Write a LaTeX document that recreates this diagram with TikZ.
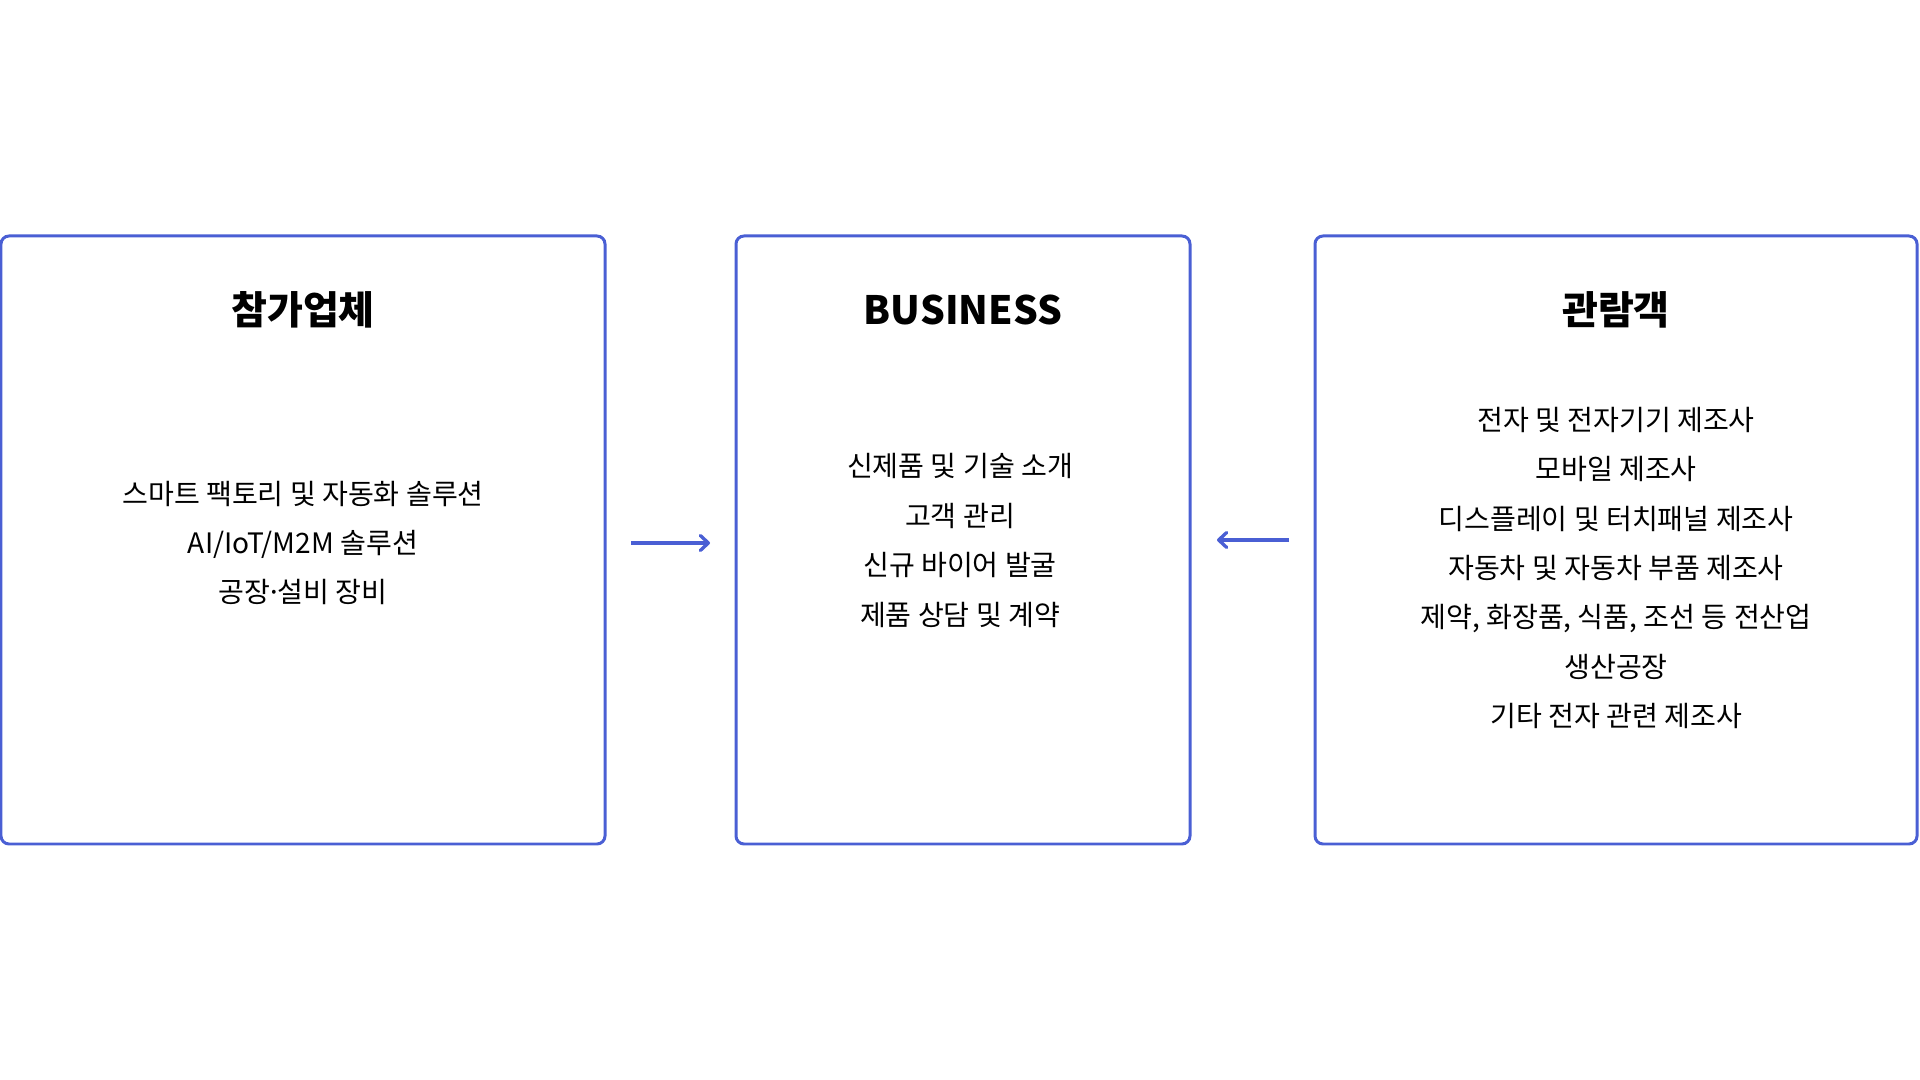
\documentclass[tikz,border=0pt]{standalone}
\usepackage{fontspec}
\setmainfont{Noto Sans CJK KR}
\usetikzlibrary{arrows.meta}
\definecolor{panelblue}{RGB}{74,95,212}
\tikzstyle{panel}=[
        draw=panelblue, line width=0.85pt, rounded corners=0.08cm
]
\tikzstyle{flow}=[
        draw=panelblue, line width=0.95pt,
        -{Straight Barb[length=0.8mm,width=1.5mm,round]}
]
\tikzstyle{heading}=[
        font=\fontsize{11.1}{13}\selectfont\bfseries
]
\tikzstyle{items}=[
        align=center, font=\fontsize{8.0}{14.05}\selectfont
]

\begin{document}
\begin{tikzpicture}
                        \useasboundingbox (0,0) rectangle (19.2,10.8);

                        \node[panel, minimum width=6.04cm, minimum height=6.08cm] (exhibitors) at (3.03,5.40) {};
                        \node[panel, minimum width=4.54cm, minimum height=6.08cm] (business) at (9.63,5.40) {};
                        \node[panel, minimum width=6.02cm, minimum height=6.08cm] (visitors) at (16.16,5.40) {};

                        \node[heading] (exhibitorsTitle) at (3.03,7.70) {참가업체};
                        \node[heading] (businessTitle) at (9.63,7.70) {BUSINESS};
                        \node[heading] (visitorsTitle) at (16.16,7.70) {관람객};

                        \node[items] (exhibitorsList) at (3.03,5.37) {스마트 팩토리 및 자동화 솔루션\\AI/IoT/M2M 솔루션\\공장\kern-0.14em·\kern-0.14em 설비 장비};
                        \node[items] (businessList) at (9.60,5.395) {신제품 및 기술 소개\\고객 관리\\신규 바이어 발굴\\제품 상담 및 계약};
                        \node[items] (visitorsList) at (16.16,5.12) {전자 및 전자기기 제조사\\모바일 제조사\\디스플레이 및 터치패널 제조사\\자동차 및 자동차 부품 제조사\\제약, 화장품, 식품, 조선 등 전산업\\생산공장\\기타 전자 관련 제조사};

                        \coordinate (inFromLeft) at (6.31,5.37);
                        \coordinate (inLeftEnd) at (7.10,5.37);
                        \coordinate (inFromRight) at (12.89,5.40);
                        \coordinate (inRightEnd) at (12.17,5.40);

                        \draw[flow] (inFromLeft) -- (inLeftEnd);
                        \draw[flow] (inFromRight) -- (inRightEnd);

                    \end{tikzpicture}
\end{document}
